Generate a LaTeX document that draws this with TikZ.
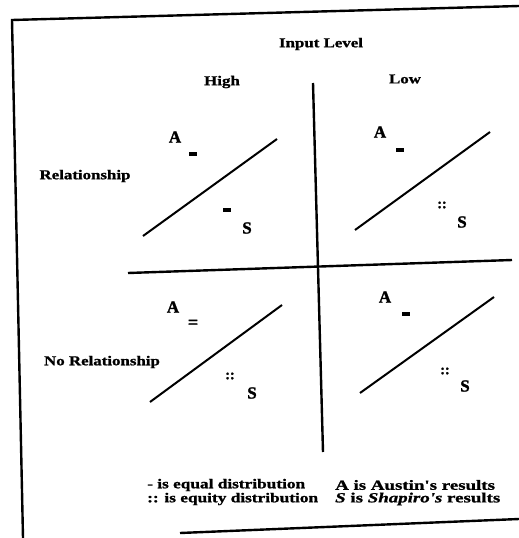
\documentclass[tikz,border=0pt]{standalone}
\usepackage{fontspec}
\setmainfont{Liberation Serif}
\newfontfamily\widefont[FakeStretch=1.25,FakeBold=1.2]{Liberation Serif}
\newfontfamily\legendfontL[FakeStretch=1.28,FakeBold=1.2]{Liberation Serif}
\newfontfamily\legendfontR[FakeStretch=1.35,FakeBold=1.2]{Liberation Serif}
\newfontfamily\heavyfont[FakeBold=1.5]{Liberation Serif}
\begin{document}
\begin{tikzpicture}[x=1pt,y=-1pt,
  lbl/.style={font=\widefont\bfseries\fontsize{13.5}{15}\selectfont, inner sep=0pt},
  letter/.style={font=\heavyfont\bfseries\fontsize{17}{19}\selectfont, inner sep=0pt},
  legendL/.style={font=\legendfontL\bfseries\fontsize{13.5}{14}\selectfont, inner sep=0pt, anchor=west},
  legendR/.style={font=\legendfontR\bfseries\fontsize{14}{14}\selectfont, inner sep=0pt, anchor=west},
  dashmk/.style={fill=black, draw=none, minimum width=8pt, minimum height=3.5pt, inner sep=0pt},
  dotsmk/.style={font=\heavyfont\bfseries\fontsize{14}{15}\selectfont, inner sep=0pt},
  eqmk/.style={font=\heavyfont\bfseries\fontsize{18}{19}\selectfont, inner sep=0pt},
  frame/.style={line width=2.4pt},
  divider/.style={line width=2.4pt},
  diag/.style={line width=2pt}]
\useasboundingbox (0,0) rectangle (519,538);
% frame
\coordinate (ftr) at (519,6);
\coordinate (ftl) at (12,20);
\coordinate (fbl) at (23,538);
\coordinate (bl) at (180,533);
\coordinate (br) at (519,519);
\draw[frame] (ftr) -- (ftl) -- (fbl);
\draw[frame] (bl) -- (br);
% dividers
\coordinate (vt) at (313,83);
\coordinate (vb) at (323,452);
\coordinate (hl) at (128,273);
\coordinate (hr) at (512,260);
\draw[divider] (vt) -- (vb);
\draw[divider] (hl) -- (hr);
% diagonals
\coordinate (d1a) at (143,236); \coordinate (d1b) at (277,139);
\coordinate (d2a) at (355,230); \coordinate (d2b) at (490,132);
\coordinate (d3a) at (150,402); \coordinate (d3b) at (282,305);
\coordinate (d4a) at (360,393); \coordinate (d4b) at (494,297);
\draw[diag] (d1a) -- (d1b);
\draw[diag] (d2a) -- (d2b);
\draw[diag] (d3a) -- (d3b);
\draw[diag] (d4a) -- (d4b);
% headings
\node[lbl] (input) at (321,44) {Input Level};
\node[lbl] (high) at (222,82) {High};
\node[lbl] (low) at (405,79) {Low};
\node[lbl] (rel) at (85,176) {Relationship};
\node[lbl] (norel) at (102,362) {No Relationship};
% top-left
\node[letter] (a1) at (175,137) {A};
\node[dashmk] (a1m) at (193,154) {};
\node[dashmk] (s1m) at (227,210) {};
\node[letter] (s1) at (247,228) {S};
% top-right
\node[letter] (a2) at (380,132) {A};
\node[dashmk] (a2m) at (400,150) {};
\node[dotsmk] (s2m) at (442,205) {::};
\node[letter] (s2) at (462,222) {S};
% bottom-left
\node[letter] (a3) at (173,307) {A};
\node[eqmk] (a3m) at (193,324) {=};
\node[dotsmk] (s3m) at (230,376) {::};
\node[letter] (s3) at (252,393) {S};
% bottom-right
\node[letter] (a4) at (385,297) {A};
\node[dashmk] (a4m) at (406,314) {};
\node[dotsmk] (s4m) at (445,371) {::};
\node[letter] (s4) at (465,386) {S};
% legend
\node[legendL] (leg1) at (147,485) {- is equal distribution};
\node[legendR] (leg2) at (335,485) {A is Austin's results};
\node[legendL] (leg3) at (147,499) {:: is equity distribution};
\node[legendR] (leg4) at (335,499) {\textit{S} is \textit{Shapiro's} results};
\end{tikzpicture}
\end{document}
